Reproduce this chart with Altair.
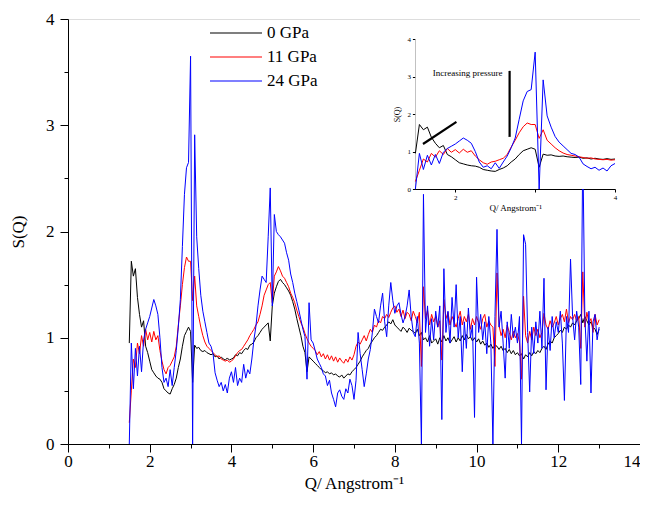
import altair as alt
import pandas as pd

# Q grid (Angstrom^-1), 1.50 ... 13.00 in steps of 0.05
q_values = [round(1.5 + 0.05 * i, 2) for i in range(231)]

series_names = ["0 GPa", "11 GPa", "24 GPa"]
series_colors = ["#000000", "#ff0000", "#0000ff"]

s_0gpa = [
    0.95, 1.72, 1.58, 1.65, 1.38, 1.22, 1.10, 1.16, 0.92, 0.86,
    0.78, 0.70, 0.67, 0.64, 0.62, 0.61, 0.58, 0.52, 0.50, 0.48,
    0.47, 0.52, 0.56, 0.62, 0.72, 0.80, 0.92, 1.02, 1.06, 1.10,
    1.06, 0.58, 0.93, 0.90, 0.91, 0.88, 0.87, 0.88, 0.86, 0.85,
    0.84, 0.85, 0.82, 0.83, 0.80, 0.82, 0.80, 0.79, 0.81, 0.79,
    0.80, 0.81, 0.84, 0.83, 0.86, 0.85, 0.88, 0.90, 0.89, 0.93,
    0.94, 0.96, 1.00, 1.02, 1.05, 1.08, 1.10, 1.12, 1.14, 0.97,
    1.30, 1.42, 1.48, 1.53, 1.55, 1.52, 1.50, 1.47, 1.44, 1.40,
    1.34, 1.27, 1.18, 1.10, 1.02, 0.92, 0.86, 0.68, 0.82, 0.80,
    0.78, 0.76, 0.74, 0.72, 0.70, 0.69, 0.67, 0.68, 0.66, 0.67,
    0.65, 0.66, 0.64, 0.63, 0.65, 0.62, 0.64, 0.66, 0.65, 0.68,
    0.70, 0.72, 0.75, 0.78, 0.82, 0.85, 0.88, 0.90, 0.94, 0.97,
    1.00, 1.02, 1.05, 1.08, 1.07, 1.10, 1.12, 1.15, 1.13, 1.17,
    1.12, 1.10, 1.08, 1.06, 1.10, 1.08, 1.05, 1.09, 1.07, 1.06,
    1.04, 1.08, 1.02, 1.05, 0.98, 1.00, 0.96, 1.02, 0.95, 0.97,
    0.99, 0.94, 1.00, 0.96, 1.02, 0.97, 1.00, 0.95, 0.98, 1.01,
    0.96, 1.00, 0.97, 1.02, 0.98, 1.03, 0.99, 1.01, 0.97, 1.00,
    0.96, 0.99, 0.94, 0.97, 0.93, 0.95, 0.91, 0.94, 0.90, 0.93,
    0.92, 0.89, 0.92, 0.88, 0.90, 0.86, 0.89, 0.85, 0.88, 0.84,
    0.86, 0.83, 0.85, 0.80, 0.84, 0.82, 0.86, 0.83, 0.87, 0.85,
    0.88, 0.86, 0.90, 0.92, 0.89, 0.94, 0.97, 0.95, 1.00, 1.02,
    1.04, 1.07, 1.05, 1.10, 1.08, 1.12, 1.10, 1.14, 1.12, 1.16,
    1.18, 1.22, 1.14, 1.20, 1.16, 1.12, 1.15, 1.10, 1.08, 1.03,
    1.08,
]

s_11gpa = [
    0.20, 0.50, 0.80, 0.72, 0.95, 0.85, 1.02, 0.92, 1.08, 0.98,
    1.05, 0.96, 1.06, 0.98, 1.02, 0.88, 0.78, 0.70, 0.66, 0.72,
    0.74, 0.78, 0.82, 0.92, 1.12, 1.30, 1.50, 1.66, 1.76, 1.72,
    1.72, 1.35, 1.58, 1.30, 1.20, 1.10, 1.02, 0.96, 0.92, 0.90,
    0.88, 0.86, 0.84, 0.82, 0.83, 0.80, 0.79, 0.78, 0.79, 0.77,
    0.78, 0.80, 0.83, 0.86, 0.88, 0.89, 0.92, 0.95, 0.98, 1.02,
    1.05, 1.08, 1.12, 1.15, 1.22, 1.30, 1.40, 1.45, 1.50, 1.52,
    1.33, 1.58, 1.62, 1.67, 1.63, 1.58, 1.56, 1.52, 1.48, 1.42,
    1.38, 1.33, 1.26, 1.20, 1.14, 1.10, 1.04, 0.99, 0.95, 0.92,
    0.90, 0.88, 0.84, 0.87, 0.82, 0.85, 0.80, 0.84, 0.79, 0.83,
    0.78, 0.82, 0.77, 0.81, 0.78, 0.76, 0.80, 0.77, 0.82, 0.79,
    0.84, 0.92, 0.96, 0.94, 0.98, 1.02, 0.97, 1.03, 1.08, 1.05,
    1.12, 1.10, 1.16, 1.14, 1.20, 1.18, 1.22, 1.19, 1.24, 1.28,
    1.30, 1.24, 1.27, 1.20, 1.26, 1.18, 1.24, 1.22, 1.16, 1.25,
    1.20, 1.14, 1.24, 0.73, 1.48, 1.18, 1.26, 1.12, 1.22, 1.15,
    1.20, 1.10, 1.16, 0.79, 1.36, 1.18, 1.24, 1.12, 1.20, 1.15,
    1.10, 1.18, 1.25, 1.12, 1.20, 1.15, 1.22, 1.08, 1.18, 1.12,
    1.20, 1.14, 1.08, 1.18, 1.22, 1.10, 1.16, 1.12, 1.10, 0.73,
    1.61, 1.12, 1.02, 1.08, 1.00, 1.12, 1.05, 0.98, 1.06, 1.00,
    1.04, 0.96, 0.61, 1.39, 1.02, 0.95, 1.06, 0.98, 1.10, 1.02,
    1.08, 1.00, 1.05, 1.23, 1.12, 1.08, 1.16, 1.10, 1.14, 1.20,
    1.12, 1.18, 1.22, 1.15, 1.27, 1.14, 1.20, 1.17, 1.22, 1.16,
    1.20, 0.90, 1.62, 1.10, 1.24, 1.14, 1.18, 1.05, 1.22, 1.12,
    1.17,
]

s_24gpa = [
    0.00, 0.95, 0.52, 0.90, 0.64, 0.92, 0.68, 0.98, 1.08, 1.14,
    1.20, 1.28, 1.36, 1.30, 1.22, 1.00, 0.72, 0.58, 0.62, 0.54,
    0.70, 0.55, 0.72, 0.88, 1.10, 1.36, 1.86, 2.35, 2.60, 2.65,
    3.65, 0.00, 2.91, 1.95, 1.65, 1.40, 1.25, 1.15, 1.05, 0.95,
    0.92, 0.85, 0.67, 0.60, 0.54, 0.58, 0.50, 0.56, 0.48, 0.62,
    0.68, 0.58, 0.72, 0.55, 0.62, 0.58, 0.75, 0.62, 0.70, 0.66,
    0.80, 0.98, 1.11, 1.30, 1.45, 1.58, 1.55, 1.52, 1.95, 2.41,
    1.30, 2.16, 2.00, 1.97, 1.95, 1.92, 1.89, 1.80, 1.73, 1.60,
    1.52, 1.42, 1.34, 1.26, 1.17, 1.08, 1.01, 0.61, 1.33, 0.98,
    0.95, 0.88, 0.80, 0.76, 0.72, 0.66, 0.64, 0.55, 0.60, 0.48,
    0.42, 0.35, 0.48, 0.51, 0.45, 0.42, 0.52, 0.48, 0.61, 0.55,
    0.42, 0.60, 1.05, 0.85, 0.70, 0.54, 0.66, 0.80, 0.89, 1.05,
    1.27, 1.20, 1.14, 1.30, 1.42, 1.15, 1.01, 1.30, 1.52, 1.35,
    1.23, 1.30, 1.33, 1.22, 1.14, 1.20, 1.30, 1.45, 1.20, 1.05,
    1.01, 1.20, 0.95, 0.00, 2.35, 1.05, 1.30, 0.92, 1.18, 0.98,
    1.25, 1.10, 1.30, 0.23, 1.65, 1.05, 1.25, 0.95, 1.38, 1.10,
    1.50, 1.00, 1.20, 0.68, 1.15, 0.90, 1.28, 1.00, 1.12, 0.25,
    1.57, 1.05, 1.22, 0.98, 1.15, 0.85, 1.20, 0.95, 0.00, 1.20,
    2.02, 1.10, 1.25, 0.95, 0.62, 1.15, 0.90, 1.22, 1.00, 1.10,
    0.95, 1.20, 0.00, 1.97, 1.88, 1.05, 0.49, 1.10, 0.85, 1.15,
    0.95, 1.25, 0.90, 1.56, 0.51, 1.10, 0.88, 1.20, 1.00, 1.15,
    1.05, 1.25, 0.95, 0.41, 1.20, 1.05, 1.74, 1.20, 0.98, 1.25,
    1.10, 0.56, 2.80, 1.20, 0.78, 1.25, 0.48, 1.15, 1.22, 0.98,
    1.10,
]

# inset annotations (in inset data units)
note_text = ["Increasing pressure"]
note_x = [2.155]
note_y = [3.09]
mark_x0 = [1.595, 2.68]
mark_y0 = [1.20, 1.39]
mark_x1 = [2.014, 2.68]
mark_y1 = [1.79, 3.15]

rows = []
for name, vals in zip(series_names, [s_0gpa, s_11gpa, s_24gpa]):
    assert len(vals) == len(q_values), (name, len(vals))
    for q, s in zip(q_values, vals):
        rows.append({"Q": q, "S": s, "series": name})
df = pd.DataFrame(rows)
inset_df = df[df["Q"] <= 4.0]

FONT = "Liberation Serif, Times New Roman, serif"
W, H = 572, 425

color_scale = alt.Scale(domain=series_names, range=series_colors)
legend = alt.Legend(
    orient="none", legendX=141, legendY=2, title=None,
    symbolType="stroke", symbolSize=2704, symbolStrokeWidth=1.2,
    labelFontSize=17, labelFont=FONT, labelColor="black",
    labelOffset=4, rowPadding=0, padding=0, clipHeight=24,
)

x_axis = alt.Axis(
    values=list(range(0, 15)),
    labelExpr="datum.value % 2 === 0 ? '' + datum.value : ''",
    tickSize={"condition": {"test": "datum.value % 2 === 0", "value": 8}, "value": 4},
    labelAlign={"condition": {"test": "datum.value === 14", "value": "right"}, "value": "center"},
    title="Q/ Angstrom\u207b\u00b9", grid=False, labelFlush=False,
    labelFontSize=17, titleFontSize=17, labelFont=FONT, titleFont=FONT,
    titleFontWeight="normal", labelPadding=1, titlePadding=6,
    domainColor="black", tickColor="black", labelColor="black", titleColor="black",
)
y_axis = alt.Axis(
    values=[i * 0.5 for i in range(9)],
    labelExpr="datum.value % 1 === 0 ? '' + datum.value : ''",
    tickSize={"condition": {"test": "datum.value % 1 === 0", "value": 8}, "value": 4},
    title="S(Q)", grid=False, labelFlush=False,
    labelFontSize=17, titleFontSize=17, labelFont=FONT, titleFont=FONT,
    titleFontWeight="normal", labelPadding=6, titlePadding=18,
    domainColor="black", tickColor="black", labelColor="black", titleColor="black",
)

main = alt.Chart(df).mark_line(strokeWidth=1, clip=True).encode(
    x=alt.X("Q:Q", scale=alt.Scale(domain=[0, 14], nice=False, zero=False), axis=x_axis),
    y=alt.Y("S:Q", scale=alt.Scale(domain=[0, 4], nice=False), axis=y_axis),
    color=alt.Color("series:N", scale=color_scale, legend=legend),
)

# inset scales (pixel ranges inside the plot area)
ix = alt.Scale(domain=[1.5, 4], range=[347.4, 547.0], nice=False, zero=False)
iy = alt.Scale(domain=[0, 4], range=[170.0, 20.0], nice=False)
ix_axis = alt.Axis(
    orient="bottom", offset=-255, values=[2, 3, 4],
    labelExpr="datum.value === 3 ? '' : '' + datum.value",
    tickSize=3, title="Q/ Angstrom\u207b\u00b9", grid=False, labelFlush=False,
    labelFontSize=7, titleFontSize=9, labelFont=FONT, titleFont=FONT,
    titleFontWeight="normal", labelPadding=1, titlePadding=3,
    domainColor="black", tickColor="black", labelColor="black", titleColor="black",
)
iy_axis = alt.Axis(
    orient="left", offset=-347.4, values=[0, 1, 2, 3, 4],
    tickSize=3, title="S(Q)", grid=False, labelFlush=False,
    labelFontSize=7, titleFontSize=8, labelFont=FONT, titleFont=FONT,
    titleFontWeight="normal", labelPadding=2, titlePadding=5,
    domainColor="black", tickColor="black", labelColor="black", titleColor="black",
)

bg_df = pd.DataFrame({"x0": [1.5], "x1": [4.0], "y0": [0.0], "y1": [4.0]})
inset_bg = alt.Chart(bg_df).mark_rect(fill="white", stroke=None).encode(
    x=alt.X("x0:Q", scale=ix, axis=ix_axis), x2="x1:Q",
    y=alt.Y("y0:Q", scale=iy, axis=iy_axis), y2="y1:Q",
)
inset_lines = alt.Chart(inset_df).mark_line(strokeWidth=1).encode(
    x=alt.X("Q:Q", scale=ix, axis=ix_axis),
    y=alt.Y("S:Q", scale=iy, axis=iy_axis),
    color=alt.Color("series:N", scale=color_scale, legend=None),
)
note_df = pd.DataFrame({"x": note_x, "y": note_y, "t": note_text})
inset_text = alt.Chart(note_df).mark_text(
    font=FONT, fontSize=9, color="black", align="center", baseline="middle"
).encode(
    x=alt.X("x:Q", scale=ix, axis=ix_axis),
    y=alt.Y("y:Q", scale=iy, axis=iy_axis),
    text="t:N",
)
marks_df = pd.DataFrame({"x0": mark_x0, "y0": mark_y0, "x1": mark_x1, "y1": mark_y1})
inset_marks = alt.Chart(marks_df).mark_rule(color="black", strokeWidth=2.2).encode(
    x=alt.X("x0:Q", scale=ix, axis=ix_axis), x2="x1:Q",
    y=alt.Y("y0:Q", scale=iy, axis=iy_axis), y2="y1:Q",
)

inset = alt.layer(inset_bg, inset_lines, inset_text, inset_marks)

chart = alt.layer(main, inset).resolve_scale(
    x="independent", y="independent"
).properties(
    width=W, height=H,
    autosize=alt.AutoSizeParams(type="none"),
    padding={"left": 60, "top": 11, "right": 0, "bottom": 50},
).configure_view(stroke=None).configure(font=FONT, background="white")

chart.save("out.html", embed_options={"renderer": "svg", "actions": False})
